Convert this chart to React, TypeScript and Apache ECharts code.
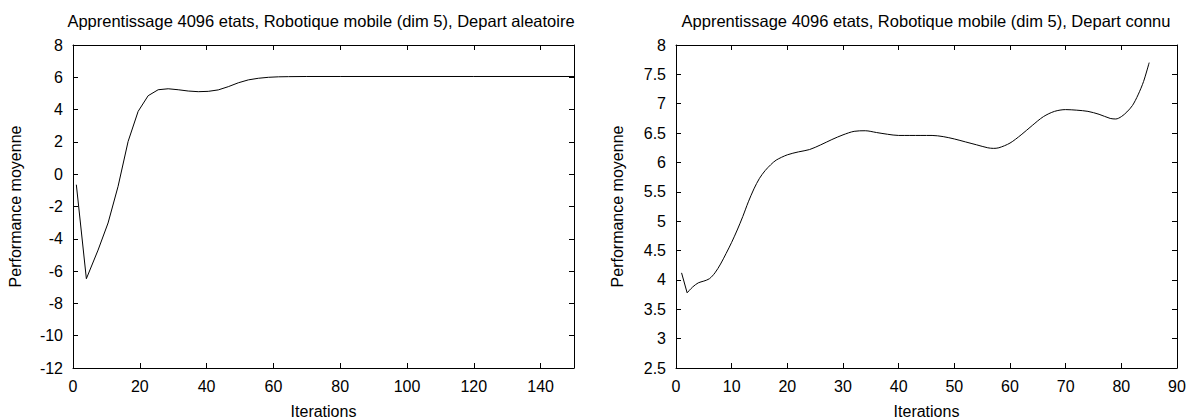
import React, { useEffect, useRef } from "react";
import * as echarts from "echarts";

const titleLeft = "Apprentissage 4096 etats, Robotique mobile (dim 5), Depart aleatoire";
const titleRight = "Apprentissage 4096 etats, Robotique mobile (dim 5), Depart connu";
const xName = "Iterations";
const yName = "Performance moyenne";

// Left chart (random start)
const leftIter = [1, 4, 7.5, 10.5, 13.5, 16.5, 19.5, 22.5, 25.5, 28.5, 31.5, 34.5, 37.5, 40.5, 43.5, 46.5, 49.5, 52.5, 55.5, 58.5, 61.5, 64.5, 70, 80, 100, 120, 150];
const leftPerf = [-0.65, -6.47, -4.7, -3.02, -0.75, 2.03, 3.89, 4.86, 5.23, 5.29, 5.23, 5.15, 5.11, 5.13, 5.22, 5.42, 5.66, 5.84, 5.94, 6.0, 6.03, 6.04, 6.05, 6.05, 6.05, 6.05, 6.05];

// Right chart (known start)
const rightIterStart = [1, 2];
const rightPerfStart = [4.12, 3.78];
const rightIter = [2, 3, 4, 5, 6, 7, 8, 9, 10, 11, 12, 13, 14, 15, 16, 17, 18, 20, 22, 24, 26, 28, 30, 32, 34, 36, 38, 40, 42, 44, 46, 48, 50, 52, 54, 56, 57, 58, 60, 62, 64, 66, 68, 70, 72, 74, 76, 78, 79, 80, 81, 82, 83, 84, 85];
const rightPerf = [3.78, 3.88, 3.95, 3.98, 4.02, 4.12, 4.27, 4.45, 4.64, 4.85, 5.08, 5.33, 5.55, 5.73, 5.86, 5.96, 6.04, 6.13, 6.18, 6.22, 6.3, 6.39, 6.47, 6.53, 6.54, 6.51, 6.48, 6.46, 6.46, 6.46, 6.46, 6.44, 6.4, 6.35, 6.3, 6.25, 6.24, 6.25, 6.33, 6.47, 6.63, 6.78, 6.87, 6.9, 6.89, 6.87, 6.82, 6.75, 6.74, 6.78, 6.86, 6.97, 7.15, 7.38, 7.7];

const leftX = { min: 0, max: 150, interval: 20 };
const leftY = { min: -12, max: 8, interval: 2 };
const rightX = { min: 0, max: 90, interval: 10 };
const rightY = { min: 2.5, max: 8, interval: 0.5 };

const FONT = "'Liberation Sans', Arial, Helvetica, sans-serif";
const FS = 16;

export default function App() {
  const ref = useRef<HTMLDivElement>(null);
  useEffect(() => {
    document.body.style.margin = "0";
    if (!ref.current) return;
    const chart = echarts.init(ref.current, undefined, { renderer: "svg" });
    const line = { show: true, onZero: false, lineStyle: { color: "#000", width: 1 } };
    const tick = { show: true, inside: true, length: 5, lineStyle: { color: "#000", width: 1 } };
    const label = { color: "#000", fontSize: FS, fontFamily: FONT };
    const hiddenLabel = { show: false };

    const mkX = (grid: number, r: any, pos: string, main: boolean) => ({
      type: "value",
      gridIndex: grid,
      position: pos,
      min: r.min,
      max: r.max,
      interval: r.interval,
      axisLine: line,
      axisTick: tick,
      splitLine: { show: false },
      axisLabel: main ? { ...label, margin: 10, showMaxLabel: grid === 0 ? false : true } : hiddenLabel,
      name: main ? xName : "",
      nameLocation: "middle",
      nameGap: 35,
      nameTextStyle: { color: "#000", fontSize: FS, fontFamily: FONT },
    });
    const mkY = (grid: number, r: any, pos: string, main: boolean, gap: number) => ({
      type: "value",
      gridIndex: grid,
      position: pos,
      min: r.min,
      max: r.max,
      interval: r.interval,
      axisLine: line,
      axisTick: tick,
      splitLine: { show: false },
      axisLabel: main ? { ...label, margin: 10 } : hiddenLabel,
      name: main ? yName : "",
      nameLocation: "middle",
      nameGap: gap,
      nameRotate: 90,
      nameTextStyle: { color: "#000", fontSize: FS, fontFamily: FONT },
    });

    chart.setOption({
      animation: false,
      backgroundColor: "#fff",
      title: [
        { text: titleLeft, left: 316, top: 7, textAlign: "center", textStyle: { color: "#000", fontSize: 16.5, fontWeight: "normal", fontFamily: FONT } },
        { text: titleRight, left: 921, top: 7, textAlign: "center", textStyle: { color: "#000", fontSize: 16.5, fontWeight: "normal", fontFamily: FONT } },
      ],
      grid: [
        { left: 73, top: 45, width: 501, height: 323, containLabel: false, outerBoundsMode: "none" },
        { left: 676, top: 45, width: 501, height: 323, containLabel: false, outerBoundsMode: "none" },
      ],
      xAxis: [
        mkX(0, leftX, "bottom", true),
        mkX(0, leftX, "top", false),
        mkX(1, rightX, "bottom", true),
        mkX(1, rightX, "top", false),
      ],
      yAxis: [
        mkY(0, leftY, "left", true, 50),
        mkY(0, leftY, "right", false, 0),
        mkY(1, rightY, "left", true, 51),
        mkY(1, rightY, "right", false, 0),
      ],
      series: [
        {
          type: "line",
          xAxisIndex: 0,
          yAxisIndex: 0,
          data: leftIter.map((x, i) => [x, leftPerf[i]]),
          showSymbol: false,
          lineStyle: { color: "#000", width: 1 },
        },
        {
          type: "line",
          xAxisIndex: 2,
          yAxisIndex: 2,
          data: rightIterStart.map((x, i) => [x, rightPerfStart[i]]),
          showSymbol: false,
          lineStyle: { color: "#000", width: 1 },
        },
        {
          type: "line",
          xAxisIndex: 2,
          yAxisIndex: 2,
          data: rightIter.map((x, i) => [x, rightPerf[i]]),
          showSymbol: false,
          smooth: 0.3,
          lineStyle: { color: "#000", width: 1 },
        },
      ],
    });
    return () => chart.dispose();
  }, []);
  return <div ref={ref} style={{ position: "absolute", left: 0, top: 0, width: 1191, height: 419 }} />;
}
